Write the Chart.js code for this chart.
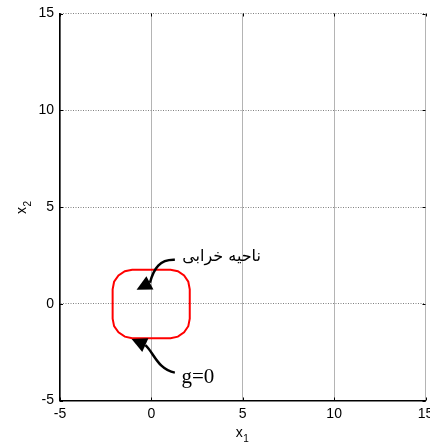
<!DOCTYPE html>
<html><head><meta charset="utf-8">
<script src="https://cdn.jsdelivr.net/npm/chart.js@4.4.1/dist/chart.umd.min.js"></script>
<style>html,body{margin:0;padding:0;background:#fff}</style>
</head><body>
<canvas id="c" width="430" height="443"></canvas>
<script>
// axis ranges / ticks
const xRange = [-5, 15];
const yRange = [-5, 15];
const tickStep = 5;
const tickValues = [-5, 0, 5, 10, 15];
// red boundary curve g=0
const boundaryX = [0, 1.05, 1.45, 1.79, 2.02, 2.10, 2.10, 2.02, 1.79, 1.45, 1.05, -1.05, -1.45, -1.80, -2.04, -2.12, -2.12, -2.04, -1.80, -1.45, -1.05, 0];
const boundaryY = [1.76, 1.76, 1.68, 1.46, 1.14, 0.75, -0.77, -1.16, -1.48, -1.70, -1.78, -1.78, -1.70, -1.48, -1.16, -0.77, 0.75, 1.14, 1.46, 1.68, 1.76, 1.76];
// annotations (data coordinates)
const labelDamage = {text: 'ناحیه خرابی', x: 1.69, y: 2.43};
const labelG = {text: 'g=0', x: 1.65, y: -4.07};
const arrowDamage = {path: [[1.285, 2.27], [0.465, 2.30], [0.137, 1.85], [-0.08, 1.085]], tip: [-0.81, 0.72]};
const arrowG = {path: [[1.285, -3.56], [0.355, -3.40], [0.137, -2.53], [-0.33, -2.14]], tip: [-1.08, -1.82]};

const points = boundaryX.map((x, i) => ({x, y: boundaryY[i]}));

const annot = {
  id: 'annot',
  afterDatasetsDraw(chart) {
    const ctx = chart.ctx, xs = chart.scales.x, ys = chart.scales.y;
    const a0 = chart.chartArea;
    const P = p => [xs.getPixelForValue(p[0]), ys.getPixelForValue(p[1])];
    ctx.save();
    // inward tick marks on all four sides
    ctx.strokeStyle = '#000'; ctx.lineWidth = 1;
    ctx.beginPath();
    tickValues.forEach(v => {
      const px = Math.round(xs.getPixelForValue(v)) + 0.5;
      ctx.moveTo(px, a0.bottom); ctx.lineTo(px, a0.bottom - 3);
      ctx.moveTo(px, a0.top); ctx.lineTo(px, a0.top + 3);
      const py = Math.round(ys.getPixelForValue(v)) + 0.5;
      ctx.moveTo(a0.left, py); ctx.lineTo(a0.left + 3, py);
      ctx.moveTo(a0.right, py); ctx.lineTo(a0.right - 3, py);
    });
    ctx.stroke();
    function arrow(a) {
      const pts = a.path.map(P);
      ctx.strokeStyle = '#000'; ctx.lineWidth = 2.5;
      ctx.beginPath();
      ctx.moveTo(pts[0][0], pts[0][1]);
      ctx.bezierCurveTo(pts[1][0], pts[1][1], pts[2][0], pts[2][1], pts[3][0], pts[3][1]);
      ctx.stroke();
      const t = P(a.tip), b = pts[3];
      const dx = t[0] - b[0], dy = t[1] - b[1], L = Math.hypot(dx, dy);
      const nx = -dy / L * 7.5, ny = dx / L * 7.5;
      ctx.fillStyle = '#000';
      ctx.beginPath();
      ctx.moveTo(t[0], t[1]);
      ctx.lineTo(b[0] + nx, b[1] + ny);
      ctx.lineTo(b[0] - nx, b[1] - ny);
      ctx.closePath(); ctx.fill();
    }
    arrow(arrowDamage); arrow(arrowG);
    ctx.fillStyle = '#000';
    ctx.textAlign = 'left';
    ctx.textBaseline = 'middle';
    ctx.font = '16px "DejaVu Sans"';
    let p = P([labelDamage.x, labelDamage.y]);
    ctx.fillText(labelDamage.text, p[0], p[1]);
    ctx.textBaseline = 'alphabetic';
    ctx.font = '21px "Liberation Serif"';
    p = P([labelG.x, labelG.y]);
    ctx.fillText(labelG.text, p[0], p[1]);
    // axis titles
    ctx.font = '14px "Liberation Sans"';
    ctx.fillStyle = '#000';
    const cx = (a0.left + a0.right) / 2;
    ctx.fillText('x', cx - 7, 437);
    ctx.font = '10px "Liberation Sans"';
    ctx.fillText('1', cx + 0.5, 442);
    ctx.translate(26, (a0.top + a0.bottom) / 2);
    ctx.rotate(-Math.PI / 2);
    ctx.font = '14px "Liberation Sans"';
    ctx.fillText('x', -7, 0);
    ctx.font = '10px "Liberation Sans"';
    ctx.fillText('2', 0.5, 5);
    ctx.restore();
  }
};

new Chart(document.getElementById('c'), {
  type: 'scatter',
  data: {datasets: [{
    data: points, showLine: true, borderColor: '#ff0000', borderWidth: 2,
    pointRadius: 0, tension: 0, fill: false
  }]},
  options: {
    responsive: false, animation: false,
    layout: {padding: {top: 13.5, right: 4.5, left: 0, bottom: 0}},
    plugins: {legend: {display: false}, tooltip: {enabled: false}},
    scales: {
      x: {
        min: xRange[0], max: xRange[1],
        ticks: {stepSize: tickStep, color: '#000', font: {family: 'Liberation Sans', size: 14}, padding: 5, maxRotation: 0},
        grid: {color: '#b4b4b4', lineWidth: 1, drawTicks: false},
        border: {color: '#000', width: 1.5},
        afterFit(s) { s.height = 42.5; s.paddingLeft = 0; s.paddingRight = 0; }
      },
      y: {
        min: yRange[0], max: yRange[1],
        ticks: {stepSize: tickStep, color: '#000', font: {family: 'Liberation Sans', size: 14}, padding: 6},
        grid: {color: '#808080', lineWidth: 1, drawTicks: false},
        border: {color: '#000', width: 1.5, dash: [1, 1.5]},
        afterFit(s) { s.width = 60; s.paddingTop = 0; s.paddingBottom = 0; }
      }
    }
  },
  plugins: [annot]
});
</script>
</body></html>
